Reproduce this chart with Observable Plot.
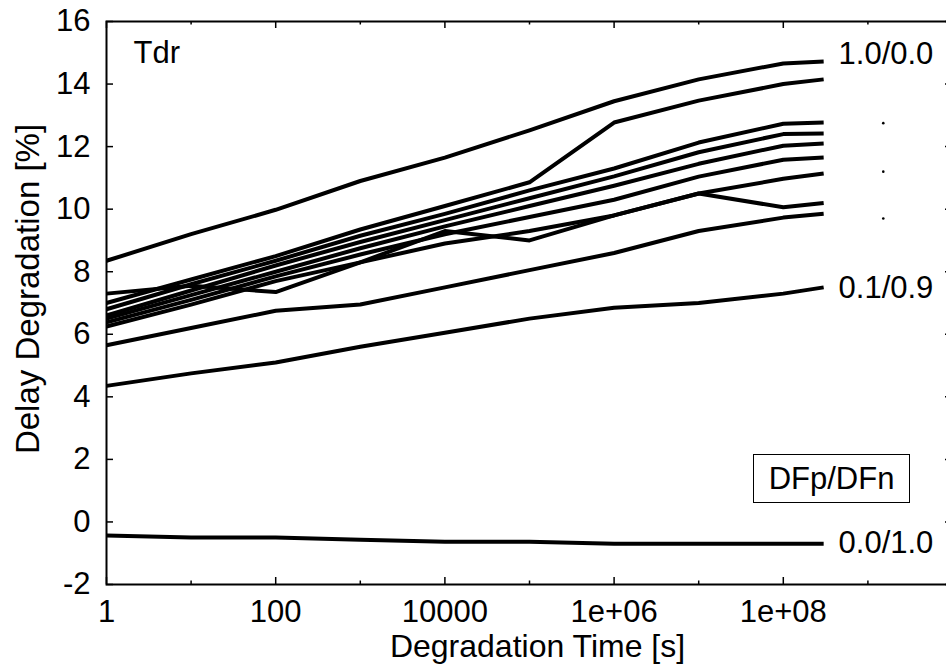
<!DOCTYPE html>
<html><head><meta charset="utf-8">
<script src="https://cdn.jsdelivr.net/npm/d3@7"></script>
<script src="https://cdn.jsdelivr.net/npm/@observablehq/plot@0.6"></script>
<style>
body{margin:0;background:#fff;}
#wrap{position:relative;width:946px;height:669px;overflow:hidden;font-family:"Liberation Sans",Arial,sans-serif;}
#wrap svg{display:block;}
#legend{position:absolute;left:753px;top:454px;width:157px;height:49px;box-sizing:border-box;border:1.5px solid #000;font-size:31px;display:flex;align-items:center;justify-content:center;color:#000;background:#fff;}
</style></head>
<body><div id="wrap"><div id="legend">DFp/DFn</div></div>
<script>
// Degradation times [s]
const times = [1, 10, 100, 1e3, 1e4, 1e5, 1e6, 1e7, 1e8, 3e8];
// Delay degradation [%] for each DFp/DFn combination
const s10_00 = [8.35, 9.2, 9.98, 10.9, 11.65, 12.52, 13.45, 14.15, 14.66, 14.72];
const s09_01 = [7.0, 7.75, 8.5, 9.35, 10.1, 10.86, 12.77, 13.47, 14.0, 14.15];
const s08_02 = [6.8, 7.6, 8.35, 9.15, 9.85, 10.6, 11.3, 12.13, 12.73, 12.77];
const s07_03 = [6.6, 7.4, 8.2, 8.95, 9.65, 10.35, 11.05, 11.82, 12.4, 12.42];
const s06_04 = [6.5, 7.25, 8.0, 8.75, 9.45, 10.1, 10.75, 11.45, 12.03, 12.1];
const s05_05 = [6.38, 7.1, 7.85, 8.55, 9.2, 9.75, 10.3, 11.04, 11.58, 11.65];
const s04_06 = [6.25, 6.95, 7.7, 8.3, 8.9, 9.3, 9.8, 10.5, 10.97, 11.14];
const s03_07 = [7.3, 7.55, 7.35, 8.3, 9.3, 9.0, 9.8, 10.5, 10.06, 10.2];
const s02_08 = [5.65, 6.2, 6.75, 6.95, 7.5, 8.05, 8.6, 9.3, 9.73, 9.85];
const s01_09 = [4.35, 4.75, 5.1, 5.6, 6.05, 6.5, 6.85, 7.0, 7.3, 7.5];
const s00_10 = [-0.43, -0.5, -0.5, -0.57, -0.63, -0.63, -0.7, -0.7, -0.7, -0.7];
const seriesNames = ["1.0/0.0","0.9/0.1","0.8/0.2","0.7/0.3","0.6/0.4","0.5/0.5","0.4/0.6","0.3/0.7","0.2/0.8","0.1/0.9","0.0/1.0"];
const seriesValues = [s10_00,s09_01,s08_02,s07_03,s06_04,s05_05,s04_06,s03_07,s02_08,s01_09,s00_10];

// end labels
const endLabels = ["1.0/0.0", "0.1/0.9", "0.0/1.0"];
const endLabelY = [14.95, 7.47, -0.66];
const endLabelX = 4.5e8;
// vertical ellipsis dots between labels
const ellipsisY = [12.75, 11.2, 9.7];
const ellipsisX = 1.52e9;

// ticks
const xMajor = [1, 100, 1e4, 1e6, 1e8];
const xMajorLabels = ["1", "100", "10000", "1e+06", "1e+08"];
const xMajorMarks = [1, 100, 1e4, 1e6, 1e8, 1e10];
const xMinorMarks = [10, 1e3, 1e5, 1e7, 1e9];
const yTicks = [-2, 0, 2, 4, 6, 8, 10, 12, 14, 16];

const xTitle = "Degradation Time [s]";
const yTitle = "Delay Degradation [%]";
const panelTitle = "Tdr";

const rows = [];
seriesNames.forEach((name, k) => {
  times.forEach((t, i) => rows.push({s: name, t, v: seriesValues[k][i]}));
});

const W = 946, H = 669, mL = 106, mR = -6, mT = 21, mB = 85;
const plotW = W - mL - mR, plotH = H - mT - mB;
const font = '"Liberation Sans", Arial, sans-serif';

const chart = Plot.plot({
  width: W, height: H,
  marginLeft: mL, marginRight: mR, marginTop: mT, marginBottom: mB,
  style: {fontFamily: font, fontSize: "31px", color: "black", background: "white"},
  x: {type: "log", domain: [1, 1e10]},
  y: {domain: [-2, 16]},
  marks: [
    // tick marks (inward, all four sides)
    Plot.tickX(xMajorMarks, {x: d => d, insetTop: plotH - 7, stroke: "black", strokeWidth: 1.5}),
    Plot.tickX(xMajorMarks, {x: d => d, insetBottom: plotH - 7, stroke: "black", strokeWidth: 1.5}),
    Plot.tickX(xMinorMarks, {x: d => d, insetTop: plotH - 3.5, stroke: "black", strokeWidth: 1.5}),
    Plot.tickX(xMinorMarks, {x: d => d, insetBottom: plotH - 3.5, stroke: "black", strokeWidth: 1.5}),
    Plot.tickY(yTicks, {y: d => d, insetRight: plotW - 7, stroke: "black", strokeWidth: 1.5}),
    Plot.tickY(yTicks, {y: d => d, insetLeft: plotW - 7, stroke: "black", strokeWidth: 1.5}),
    Plot.axisX({anchor: "bottom", ticks: xMajor, tickSize: 0, tickPadding: 15, label: null,
      fontSize: 31, tickFormat: d => xMajorLabels[xMajor.indexOf(d)]}),
    Plot.axisY({anchor: "left", ticks: yTicks, tickSize: 0, tickPadding: 16, label: null,
      fontSize: 31, tickFormat: d => String(d)}),
    Plot.frame({stroke: "black", strokeWidth: 2}),
    Plot.line(rows, {x: "t", y: "v", z: "s", stroke: "black", strokeWidth: 4,
      strokeLinejoin: "round", strokeLinecap: "butt"}),
    Plot.text(endLabels, {x: () => endLabelX, y: (d, i) => endLabelY[i], text: d => d,
      textAnchor: "start", lineAnchor: "middle", fontSize: 31, fill: "black"}),
    Plot.dot(ellipsisY, {x: () => ellipsisX, y: d => d, r: 1.3, fill: "black", stroke: null}),
    Plot.text([panelTitle], {frameAnchor: "top-left", dx: 27, dy: 32, textAnchor: "start",
      lineAnchor: "middle", fontSize: 31, fill: "black"}),
    Plot.text([xTitle], {frameAnchor: "bottom", dx: 8, dy: 62, lineAnchor: "middle",
      textAnchor: "middle", fontSize: 32, fill: "black"}),
    Plot.text([yTitle], {frameAnchor: "left", dx: -78, dy: -14, rotate: -90, lineAnchor: "middle",
      textAnchor: "middle", fontSize: 33, fill: "black"})
  ]
});
document.getElementById("wrap").prepend(chart);
</script>
</body></html>
